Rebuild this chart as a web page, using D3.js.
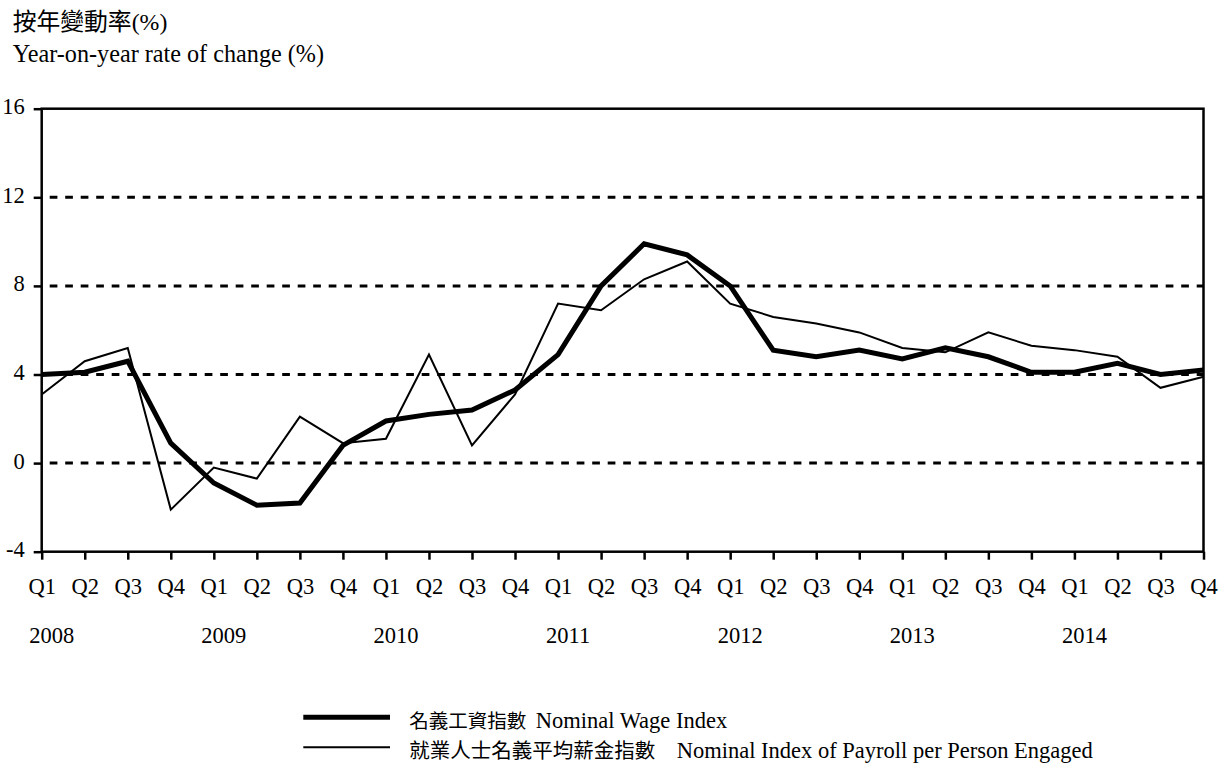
<!DOCTYPE html>
<html>
<head>
<meta charset="utf-8">
<script src="https://cdn.jsdelivr.net/npm/d3@7"></script>
<style>
  html, body { margin: 0; padding: 0; background: #fff; }
  svg { display: block; font-family: "Liberation Serif", "Times New Roman", "Noto Sans CJK TC", serif; }
</style>
</head>
<body>
<svg id="chart" width="1220" height="765"></svg>
<script>
// Chart data
const years = ["2008", "2009", "2010", "2011", "2012", "2013", "2014"];
const quarterLabels = ["Q1", "Q2", "Q3", "Q4"];
const yTicks = [-4, 0, 4, 8, 12, 16];
const gridValues = [0, 4, 8, 12];

// Nominal Wage Index, year-on-year % change
const wageIndex = [4.0, 4.1, 4.6, 0.9, -0.9, -1.9, -1.8, 0.8, 1.9, 2.2, 2.4, 3.3, 4.9, 8.0,
  9.9, 9.4, 8.0, 5.1, 4.8, 5.1, 4.7, 5.2, 4.8, 4.1, 4.1, 4.5, 4.0, 4.2];
// Nominal Index of Payroll per Person Engaged, year-on-year % change
const payrollIndex = [3.1, 4.6, 5.2, -2.1, -0.2, -0.7, 2.1, 0.9, 1.1, 4.9, 0.8, 3.1, 7.2, 6.9,
  8.3, 9.1, 7.2, 6.6, 6.3, 5.9, 5.2, 5.0, 5.9, 5.3, 5.1, 4.8, 3.4, 3.9];

const periods = years.flatMap(y => quarterLabels.map(q => `${y} ${q}`));

const series = [
  { name: "wage", values: wageIndex, width: 5, zh: "名義工資指數", en: "Nominal Wage Index", enX: 535.7 },
  { name: "payroll", values: payrollIndex, width: 2, zh: "就業人士名義平均薪金指數", en: "Nominal Index of Payroll per Person Engaged", enX: 676.7 }
];

const svg = d3.select("#chart");
const plot = { left: 41.7, right: 1203.5, top: 108.7, bottom: 551.7 };
const fontSize = 22.5;

const x = d3.scalePoint()
  .domain(periods)
  .range([plot.left, plot.right]);

const y = d3.scaleLinear()
  .domain([-4, 16])
  .range([plot.bottom, plot.top]);

// Titles
svg.append("text")
  .attr("x", 12.7)
  .attr("y", 29.5)
  .style("font-size", "23.8px")
  .text("按年變動率(%)");

svg.append("text")
  .attr("x", 12.7)
  .attr("y", 61.7)
  .style("font-size", "24.2px")
  .text("Year-on-year rate of change (%)");

// Dotted grid lines
svg.append("g")
  .attr("class", "grid")
  .selectAll("line")
  .data(gridValues)
  .join("line")
  .attr("x1", plot.left)
  .attr("x2", plot.right)
  .attr("y1", d => y(d))
  .attr("y2", d => y(d))
  .attr("stroke", "#000")
  .attr("stroke-width", 3)
  .attr("stroke-dasharray", "7.7,7.8")
  .attr("stroke-dashoffset", -8);

// Y axis
const yAxis = svg.append("g")
  .attr("transform", `translate(${plot.left},0)`)
  .call(d3.axisLeft(y).tickValues(yTicks).tickSize(8).tickPadding(9).tickFormat(d => String(d)))
  .attr("font-family", null)
  .attr("font-size", null);
yAxis.select(".domain").remove();
yAxis.selectAll("line").attr("stroke", "#000").attr("stroke-width", 2.5);
yAxis.selectAll("text")
  .attr("fill", "#000")
  .attr("dy", null)
  .attr("y", 5)
  .style("font-size", fontSize + "px");

// X axis with quarter labels
const xAxis = svg.append("g")
  .attr("transform", `translate(0,${plot.bottom})`)
  .call(d3.axisBottom(x).tickSize(8).tickFormat(d => d.split(" ")[1]))
  .attr("font-family", null)
  .attr("font-size", null);
xAxis.select(".domain").remove();
xAxis.selectAll("line").attr("stroke", "#000").attr("stroke-width", 2.5);
xAxis.selectAll("text")
  .attr("fill", "#000")
  .attr("dy", null)
  .attr("y", 594.3 - plot.bottom)
  .style("font-size", fontSize + "px");

// Year labels
svg.append("g")
  .selectAll("text")
  .data(years)
  .join("text")
  .attr("x", d => x(`${d} Q1`) + 10)
  .attr("y", 642.7)
  .attr("text-anchor", "middle")
  .style("font-size", fontSize + "px")
  .text(d => d);

// Plot frame
svg.append("rect")
  .attr("x", plot.left)
  .attr("y", plot.top)
  .attr("width", plot.right - plot.left)
  .attr("height", plot.bottom - plot.top)
  .attr("fill", "none")
  .attr("stroke", "#000")
  .attr("stroke-width", 2.5);

// Series lines
const line = d3.line()
  .x((d, i) => x(periods[i]))
  .y(d => y(d));

svg.append("g")
  .selectAll("path")
  .data(series.slice().reverse())
  .join("path")
  .attr("d", d => line(d.values))
  .attr("fill", "none")
  .attr("stroke", "#000")
  .attr("stroke-width", d => d.width)
  .attr("stroke-linejoin", "miter");

// Legend
const legend = svg.append("g").attr("class", "legend");
series.forEach((s, i) => {
  const ly = 717.3 + i * 30;
  legend.append("line")
    .attr("x1", 303.3)
    .attr("x2", 390)
    .attr("y1", ly)
    .attr("y2", ly)
    .attr("stroke", "#000")
    .attr("stroke-width", s.width);

  const t = legend.append("text")
    .attr("y", ly + 11);
  t.append("tspan")
    .attr("x", 409.3)
    .style("font-size", i === 0 ? "19.5px" : "20.5px")
    .text(s.zh);
  t.append("tspan")
    .attr("x", s.enX)
    .style("font-size", fontSize + "px")
    .text(s.en);
});
</script>
</body>
</html>
